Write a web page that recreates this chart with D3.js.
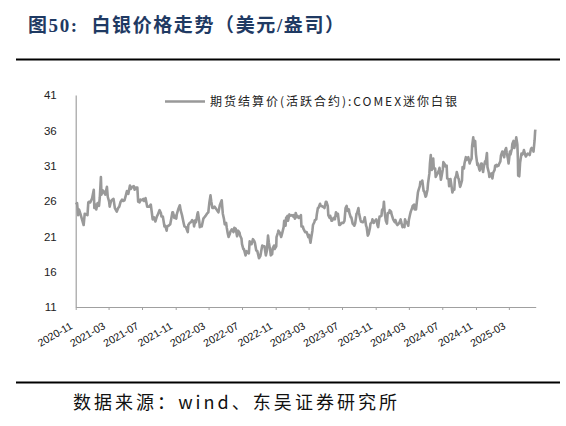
<!DOCTYPE html>
<html>
<head>
<meta charset="utf-8">
<script src="https://cdn.jsdelivr.net/npm/d3@7"></script>
<style>
  body { margin: 0; background: #fff; }
  svg { display: block; }
</style>
</head>
<body>
<script>
/* data: COMEX mini silver settlement price, USD/oz */
var silver2020 = [
  ['11-02', 25.5], ['11-06', 25.7], ['11-10', 24.0], ['11-13', 24.8], ['11-18', 24.2],
  ['11-24', 23.4], ['11-30', 22.6], ['12-04', 24.2], ['12-09', 24.1], ['12-14', 24.0],
  ['12-17', 25.8], ['12-21', 25.9], ['12-24', 25.8], ['12-31', 26.4]
];
var silver2021 = [
  ['01-06', 27.6], ['01-08', 25.0], ['01-12', 25.5], ['01-15', 24.8], ['01-20', 25.7],
  ['01-25', 25.3], ['01-28', 26.5], ['02-01', 29.4], ['02-03', 26.9], ['02-08', 27.5],
  ['02-12', 27.3], ['02-17', 26.9], ['02-23', 28.0], ['02-26', 26.6], ['03-03', 25.9],
  ['03-05', 25.2], ['03-10', 26.0], ['03-15', 26.2], ['03-19', 26.3], ['03-24', 25.0],
  ['03-31', 24.5], ['04-05', 25.0], ['04-09', 25.2], ['04-14', 25.9], ['04-19', 26.2],
  ['04-23', 26.0], ['04-28', 26.1], ['05-03', 26.8], ['05-07', 27.4], ['05-12', 27.0],
  ['05-18', 28.2], ['05-21', 27.7], ['05-26', 28.0], ['06-01', 28.1], ['06-04', 27.6],
  ['06-09', 27.9], ['06-14', 27.9], ['06-17', 25.9], ['06-22', 25.8], ['06-25', 26.2],
  ['07-01', 26.1], ['07-06', 26.3], ['07-09', 26.0], ['07-14', 26.4], ['07-20', 25.2],
  ['07-23', 25.2], ['07-28', 25.2], ['08-02', 25.5], ['08-06', 24.3], ['08-09', 23.4],
  ['08-13', 23.7], ['08-19', 23.1], ['08-24', 23.8], ['08-27', 24.0], ['09-03', 24.7],
  ['09-08', 24.3], ['09-10', 23.8], ['09-15', 23.8], ['09-21', 22.4], ['09-24', 22.5],
  ['09-29', 21.8], ['10-01', 22.4], ['10-06', 22.5], ['10-12', 22.7], ['10-15', 23.3],
  ['10-20', 24.4], ['10-22', 24.4], ['10-27', 23.6], ['10-29', 23.9], ['11-03', 23.5],
  ['11-05', 24.1], ['11-10', 24.8], ['11-16', 25.4], ['11-19', 24.7], ['11-24', 24.0],
  ['11-30', 22.9], ['12-03', 22.4], ['12-08', 22.3], ['12-15', 21.6], ['12-17', 22.6],
  ['12-22', 22.9], ['12-27', 23.0], ['12-31', 23.3]
];
var silver2022 = [
  ['01-05', 23.1], ['01-07', 22.4], ['01-12', 23.3], ['01-14', 23.0], ['01-19', 24.1],
  ['01-21', 24.4], ['01-26', 23.1], ['01-28', 22.3], ['02-02', 22.6], ['02-04', 22.4],
  ['02-10', 23.5], ['02-14', 23.7], ['02-18', 23.9], ['02-23', 24.2], ['02-28', 24.4],
  ['03-04', 25.8], ['03-08', 26.8], ['03-11', 25.9], ['03-15', 25.0], ['03-18', 25.0],
  ['03-23', 25.2], ['03-28', 24.9], ['04-01', 24.7], ['04-06', 24.4], ['04-11', 25.4],
  ['04-18', 26.1], ['04-22', 24.2], ['04-26', 23.5], ['04-29', 22.7], ['05-04', 22.9],
  ['05-06', 22.3], ['05-10', 21.4], ['05-13', 20.9], ['05-18', 21.4], ['05-20', 21.7],
  ['05-25', 22.0], ['05-31', 21.6], ['06-03', 22.2], ['06-08', 22.1], ['06-13', 21.0],
  ['06-17', 21.8], ['06-22', 21.5], ['06-24', 21.1], ['06-29', 20.7], ['07-01', 19.9],
  ['07-06', 19.2], ['07-08', 19.2], ['07-14', 18.3], ['07-18', 18.9], ['07-22', 18.7],
  ['07-26', 18.6], ['07-29', 20.3], ['08-03', 19.9], ['08-05', 19.9], ['08-10', 20.6],
  ['08-15', 20.3], ['08-17', 20.1], ['08-22', 19.0], ['08-26', 18.9], ['09-01', 17.9],
  ['09-06', 18.2], ['09-09', 18.9], ['09-13', 19.7], ['09-16', 19.6], ['09-21', 19.6],
  ['09-26', 18.3], ['09-30', 19.0], ['10-04', 21.1], ['10-07', 20.1], ['10-12', 19.0],
  ['10-14', 18.3], ['10-19', 18.5], ['10-21', 19.3], ['10-26', 19.7], ['10-28', 19.2],
  ['11-03', 19.6], ['11-04', 20.9], ['11-09', 21.5], ['11-11', 21.8], ['11-16', 21.5],
  ['11-21', 20.9], ['11-25', 21.5], ['11-30', 22.3], ['12-02', 23.2], ['12-07', 22.5],
  ['12-09', 23.6], ['12-14', 23.9], ['12-16', 23.2], ['12-21', 24.1], ['12-23', 23.9],
  ['12-30', 24.0]
];
var silver2023 = [
  ['01-04', 23.8], ['01-06', 24.0], ['01-10', 23.5], ['01-13', 24.3], ['01-18', 23.7],
  ['01-20', 23.9], ['01-25', 23.6], ['01-27', 23.7], ['02-01', 24.0], ['02-03', 22.4],
  ['02-08', 22.4], ['02-10', 22.1], ['02-15', 21.7], ['02-17', 21.6], ['02-22', 21.6],
  ['02-28', 20.9], ['03-03', 21.2], ['03-08', 20.1], ['03-10', 20.6], ['03-15', 21.8],
  ['03-17', 22.6], ['03-22', 23.0], ['03-24', 23.3], ['03-29', 23.4], ['03-31', 24.1],
  ['04-04', 25.0], ['04-06', 25.0], ['04-12', 25.6], ['04-14', 25.3], ['04-19', 25.3],
  ['04-21', 25.2], ['04-26', 25.1], ['04-28', 25.0], ['05-03', 25.9], ['05-05', 25.9],
  ['05-10', 25.3], ['05-12', 24.0], ['05-17', 23.6], ['05-19', 23.9], ['05-24', 23.2],
  ['05-26', 23.2], ['05-31', 23.6], ['06-05', 23.4], ['06-09', 24.4], ['06-14', 23.9],
  ['06-16', 24.2], ['06-21', 22.6], ['06-23', 22.6], ['06-28', 22.8], ['06-30', 22.9],
  ['07-06', 22.9], ['07-10', 23.2], ['07-14', 25.0], ['07-18', 25.3], ['07-21', 24.6],
  ['07-26', 24.8], ['07-28', 24.3], ['08-02', 23.7], ['08-04', 23.7], ['08-09', 22.8],
  ['08-11', 22.7], ['08-15', 22.5], ['08-18', 22.8], ['08-23', 24.2], ['08-25', 24.3],
  ['08-30', 25.0], ['09-01', 24.3], ['09-06', 23.4], ['09-08', 23.1], ['09-13', 23.0],
  ['09-15', 23.0], ['09-20', 23.3], ['09-22', 23.7], ['09-27', 22.5], ['09-29', 22.3],
  ['10-03', 21.1], ['10-06', 21.3], ['10-11', 22.2], ['10-13', 22.8], ['10-18', 23.0],
  ['10-20', 23.4], ['10-25', 22.9], ['10-27', 23.2], ['11-01', 23.2], ['11-03', 23.4],
  ['11-08', 22.5], ['11-10', 22.3], ['11-15', 23.8], ['11-17', 23.8], ['11-22', 23.9],
  ['11-24', 24.7], ['11-29', 25.0], ['12-01', 25.9], ['12-04', 24.3], ['12-08', 23.2],
  ['12-12', 22.8], ['12-15', 24.3], ['12-20', 24.3], ['12-22', 24.7], ['12-27', 24.5],
  ['12-29', 24.1]
];
var silver2024 = [
  ['01-03', 23.5], ['01-05', 23.3], ['01-10', 23.0], ['01-12', 23.3], ['01-17', 22.7],
  ['01-19', 22.6], ['01-24', 22.8], ['01-26', 22.9], ['01-31', 23.4], ['02-02', 23.0],
  ['02-07', 22.3], ['02-09', 22.6], ['02-14', 22.3], ['02-16', 23.4], ['02-21', 22.9],
  ['02-23', 23.0], ['02-28', 22.5], ['03-01', 23.3], ['03-06', 24.2], ['03-08', 24.5],
  ['03-13', 25.0], ['03-15', 25.3], ['03-20', 25.5], ['03-22', 24.8], ['03-27', 24.8],
  ['03-28', 25.1], ['04-03', 27.2], ['04-05', 27.5], ['04-10', 28.1], ['04-12', 28.7],
  ['04-16', 28.5], ['04-19', 28.9], ['04-24', 27.4], ['04-26', 27.4], ['05-01', 26.6],
  ['05-03', 26.7], ['05-08', 27.6], ['05-10', 28.5], ['05-15', 29.9], ['05-17', 31.3],
  ['05-20', 32.5], ['05-22', 30.8], ['05-24', 30.4], ['05-29', 32.0], ['05-31', 30.6],
  ['06-05', 30.6], ['06-07', 29.4], ['06-12', 29.8], ['06-14', 29.9], ['06-19', 30.4],
  ['06-21', 30.7], ['06-26', 29.0], ['06-28', 29.4], ['07-03', 30.5], ['07-05', 31.5],
  ['07-10', 31.2], ['07-12', 30.9], ['07-17', 31.0], ['07-19', 29.2], ['07-24', 29.1],
  ['07-26', 28.1], ['07-31', 29.1], ['08-02', 28.6], ['08-07', 27.2], ['08-09', 27.5],
  ['08-14', 27.6], ['08-16', 29.1], ['08-21', 29.6], ['08-23', 30.1], ['08-28', 29.3],
  ['08-30', 29.1], ['09-04', 28.0], ['09-06', 28.2], ['09-11', 28.9], ['09-13', 30.8],
  ['09-18', 30.6], ['09-20', 31.3], ['09-25', 32.2], ['09-27', 31.8], ['10-02', 32.1],
  ['10-04', 32.2], ['10-09', 31.3], ['10-11', 31.6], ['10-16', 32.0], ['10-18', 33.8],
  ['10-22', 35.0], ['10-25', 33.8], ['10-29', 34.5], ['11-01', 32.6], ['11-06', 31.1],
  ['11-08', 31.3], ['11-13', 30.5], ['11-15', 30.3], ['11-20', 31.3], ['11-22', 31.3],
  ['11-27', 30.1], ['11-29', 30.7], ['12-04', 31.6], ['12-06', 31.3], ['12-11', 32.8],
  ['12-13', 30.8], ['12-18', 30.0], ['12-20', 29.4], ['12-24', 29.8], ['12-27', 29.9],
  ['12-31', 29.2]
];
var silver2025 = [
  ['01-03', 30.0], ['01-08', 30.4], ['01-10', 31.0], ['01-15', 31.1], ['01-17', 30.9],
  ['01-22', 31.0], ['01-24', 31.2], ['01-29', 31.6], ['01-31', 32.4], ['02-05', 33.0],
  ['02-07', 32.7], ['02-12', 32.2], ['02-14', 33.0], ['02-19', 33.5], ['02-21', 32.9],
  ['02-26', 31.9], ['02-28', 31.3], ['03-05', 33.0], ['03-07', 32.6], ['03-12', 33.4],
  ['03-14', 34.1], ['03-18', 34.5], ['03-21', 33.5], ['03-26', 34.4], ['03-28', 35.0],
  ['04-01', 34.0], ['04-03', 32.0], ['04-04', 29.6], ['04-08', 29.5], ['04-11', 31.4],
  ['04-16', 32.7], ['04-17', 32.5], ['04-22', 32.7], ['04-25', 33.2], ['04-30', 32.5],
  ['05-02', 32.3], ['05-07', 32.6], ['05-09', 32.7], ['05-14', 32.6], ['05-16', 32.5],
  ['05-21', 33.4], ['05-23', 33.5], ['05-28', 33.2], ['05-30', 33.0], ['06-03', 34.6],
  ['06-05', 35.9], ['06-06', 36.1]
];

var yTicks = [11, 16, 21, 26, 31, 36, 41];
var xTickLabels = ['2020-11', '2021-03', '2021-07', '2021-11', '2022-03', '2022-07', '2022-11',
  '2023-03', '2023-07', '2023-11', '2024-03', '2024-07', '2024-11', '2025-03'];
var xStart = '2020-11-01';
var xEnd = '2025-06-07';

var titleText = '图50:  白银价格走势（美元/盎司）';
var legendText = '期货结算价(活跃合约):COMEX迷你白银';
var sourceText = '数据来源：wind、东吴证券研究所';

/* setup */
var width = 566;
var height = 426;
var plot = { left: 75.7, right: 535.7, top: 95, bottom: 307 };
var lineColor = '#999999';

var parseDay = d3.timeParse('%Y-%m-%d');
var parseMonth = d3.timeParse('%Y-%m');

var years = [
  [2020, silver2020], [2021, silver2021], [2022, silver2022],
  [2023, silver2023], [2024, silver2024], [2025, silver2025]
];
var series = [];
years.forEach(function(y) {
  y[1].forEach(function(p) {
    series.push({ date: parseDay(y[0] + '-' + p[0]), value: p[1] });
  });
});

var x = d3.scaleTime()
  .domain([parseDay(xStart), parseDay(xEnd)])
  .range([plot.left, plot.right]);

var y = d3.scaleLinear()
  .domain([11, 41])
  .range([plot.bottom, plot.top]);

/* DOM */
var svg = d3.select('body').append('svg')
  .attr('width', width)
  .attr('height', height)
  .style('font-family', '"Liberation Sans", Arial, sans-serif');

svg.append('rect')
  .attr('width', width)
  .attr('height', height)
  .attr('fill', '#fff');

// title + rules
svg.append('text')
  .attr('x', 28)
  .attr('y', 32)
  .attr('fill', '#1f3a63')
  .attr('font-size', 19)
  .attr('font-weight', 'bold')
  .attr('textLength', 316)
  .attr('lengthAdjust', 'spacing')
  .style('white-space', 'pre')
  .style('font-family', '"Liberation Serif", "Noto Sans CJK SC", serif')
  .text(titleText);

svg.append('line')
  .attr('x1', 16).attr('x2', 560)
  .attr('y1', 59.5).attr('y2', 59.5)
  .attr('stroke', '#000')
  .attr('stroke-width', 2);

svg.append('line')
  .attr('x1', 16).attr('x2', 560)
  .attr('y1', 382.5).attr('y2', 382.5)
  .attr('stroke', '#000')
  .attr('stroke-width', 2);

svg.append('text')
  .attr('x', 73)
  .attr('y', 409)
  .attr('fill', '#111')
  .attr('font-size', 18)
  .attr('textLength', 324)
  .attr('lengthAdjust', 'spacing')
  .style('font-family', '"Noto Sans CJK SC", sans-serif')
  .text(sourceText);

// axes
var yAxis = d3.axisLeft(y)
  .tickValues(yTicks)
  .tickSize(0)
  .tickPadding(19);

var g_y = svg.append('g')
  .attr('transform', 'translate(' + plot.left + ',0)')
  .call(yAxis);

g_y.select('.domain').attr('stroke', '#a0a0a0').attr('stroke-width', 1.2);
g_y.selectAll('text')
  .attr('font-size', 11.5)
  .attr('fill', '#222')
  .style('font-family', '"Liberation Sans", Arial, sans-serif');

var xAxis = d3.axisBottom(x)
  .tickValues(xTickLabels.map(parseMonth))
  .tickSize(3)
  .tickSizeOuter(0)
  .tickFormat(d3.timeFormat('%Y-%m'));

var g_x = svg.append('g')
  .attr('transform', 'translate(0,' + plot.bottom + ')')
  .call(xAxis);

g_x.select('.domain').attr('stroke', '#a0a0a0').attr('stroke-width', 1.2);
g_x.selectAll('.tick line').attr('stroke', '#a0a0a0');
g_x.selectAll('text')
  .attr('x', 0)
  .attr('y', 0)
  .attr('dy', null)
  .attr('transform', 'translate(-3,21) rotate(-30)')
  .attr('text-anchor', 'end')
  .attr('font-size', 10.5)
  .attr('fill', '#111')
  .style('font-family', '"Liberation Sans", Arial, sans-serif');

// line
var line = d3.line()
  .x(function(d) { return x(d.date) })
  .y(function(d) { return y(d.value) });

svg.append('path')
  .datum(series)
  .attr('d', line)
  .attr('fill', 'none')
  .attr('stroke', lineColor)
  .attr('stroke-width', 2.6)
  .attr('stroke-linejoin', 'round');

// legend
svg.append('line')
  .attr('x1', 165).attr('x2', 205)
  .attr('y1', 101.5).attr('y2', 101.5)
  .attr('stroke', lineColor)
  .attr('stroke-width', 2.6);

svg.append('text')
  .attr('x', 210)
  .attr('y', 106)
  .attr('font-size', 12)
  .attr('fill', '#222')
  .attr('textLength', 247)
  .attr('lengthAdjust', 'spacing')
  .style('font-family', '"Noto Sans CJK SC", sans-serif')
  .text(legendText);
</script>
</body>
</html>
